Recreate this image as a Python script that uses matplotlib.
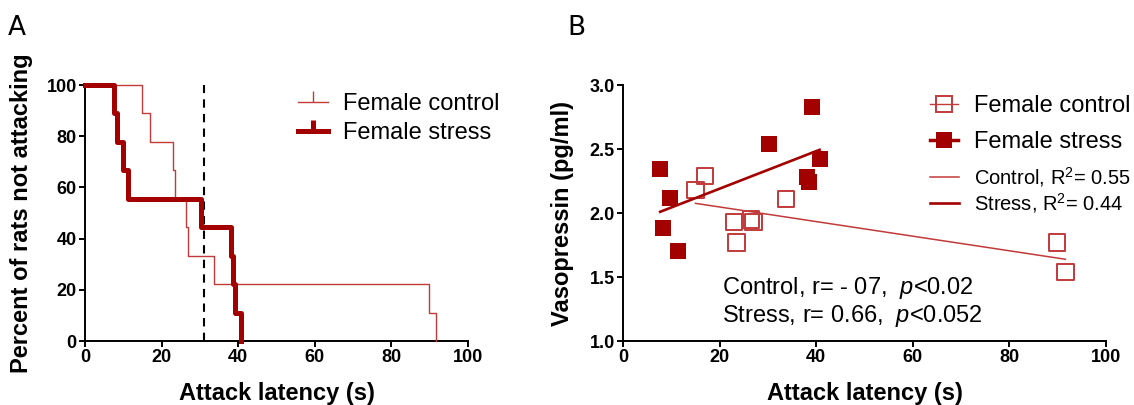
import matplotlib.pyplot as plt
import numpy as np
from matplotlib.lines import Line2D

plt.rcParams['font.family'] = ['Liberation Sans', 'DejaVu Sans']
plt.rcParams['mathtext.fontset'] = 'custom'
plt.rcParams['mathtext.rm'] = 'Liberation Sans'
plt.rcParams['mathtext.it'] = 'Liberation Sans:italic'

# attack latency (s) and vasopressin (pg/ml) per rat
ctrl_latency = [15.0, 17.0, 23.0, 23.5, 26.5, 27.0, 33.7, 89.8, 91.6]
ctrl_avp = [2.18, 2.29, 1.93, 1.77, 1.95, 1.93, 2.11, 1.77, 1.54]
stress_latency = [7.7, 8.3, 9.8, 11.3, 30.2, 38.0, 38.6, 39.1, 40.7]
stress_avp = [2.34, 1.88, 2.12, 1.70, 2.54, 2.28, 2.24, 2.83, 2.42]
cutoff = 31

c_ctrl = '#C23A3A'
c_stress = '#A30000'


def km_curve(times):
    t = np.sort(np.asarray(times))
    n = len(t)
    x = np.concatenate([[0], t])
    y = 100 * (n - np.arange(n + 1)) / n
    return x, y


fig = plt.figure(figsize=(11.34, 4.05), dpi=100)
W, H = 1134, 405

def box(l, r, t, b):
    return [l / W, 1 - b / H, (r - l) / W, (b - t) / H]

axA = fig.add_axes(box(85, 468, 85, 341))
axB = fig.add_axes(box(623, 1106, 85, 341))

for ax in (axA, axB):
    ax.spines[['top', 'right']].set_visible(False)
    ax.spines[['left', 'bottom']].set_linewidth(1.4)
    ax.tick_params(direction='out', length=4, width=1.4, labelsize=13, pad=2)

# ---- panel A: survival-style curves
x, y = km_curve(ctrl_latency)
axA.step(x, y, where='post', color=c_ctrl, lw=1.0, clip_on=False, zorder=3)
x, y = km_curve(stress_latency)
axA.step(x, y, where='post', color=c_stress, lw=3.6, clip_on=False, zorder=4)
axA.plot([cutoff, cutoff], [0, 100], color='black', lw=1.5, ls=(0, (4, 3)), zorder=2)
axA.set_xlim(0, 100)
axA.set_ylim(0, 100)
axA.set_xticks(np.arange(0, 101, 20))
axA.set_yticks(np.arange(0, 101, 20))
for lab in axA.get_xticklabels() + axA.get_yticklabels():
    lab.set_fontweight('bold')
axA.set_xlabel('Attack latency (s)', fontsize=17, fontweight='bold')
axA.set_ylabel('Percent of rats not attacking', fontsize=17, fontweight='bold')
axA.xaxis.set_label_coords(0.5, -0.205)
axA.xaxis.label.set_va('center')
axA.yaxis.set_label_coords(-0.167, 0.5)
axA.yaxis.label.set_va('center')

hA = [Line2D([], [], color=c_ctrl, lw=1.0, marker=2, ms=8, mew=1.0),
      Line2D([], [], color=c_stress, lw=3.6, marker=2, ms=8, mew=3.6)]
axA.legend(hA, ['Female control', 'Female stress'], loc='upper left',
           bbox_to_anchor=(298 / W, 1 - 93 / H), bbox_transform=fig.transFigure,
           frameon=False, fontsize=17, borderpad=0, borderaxespad=0,
           handlelength=1.25, handletextpad=0.65, labelspacing=0.3)

# ---- panel B: scatter and regressions
axB.scatter(ctrl_latency, ctrl_avp, marker='s', s=140, facecolors='none',
            edgecolors=c_ctrl, linewidths=1.4, zorder=3)
axB.scatter(stress_latency, stress_avp, marker='s', s=140, color=c_stress,
            linewidths=0, zorder=4)
for lat, avp, col, lw in ((ctrl_latency, ctrl_avp, c_ctrl, 1.1),
                          (stress_latency, stress_avp, c_stress, 1.9)):
    k, b = np.polyfit(lat, avp, 1)
    xs = np.array([min(lat), max(lat)])
    axB.plot(xs, k * xs + b, color=col, lw=lw, zorder=5)
axB.set_xlim(0, 100)
axB.set_ylim(1.0, 3.0)
axB.set_xticks(np.arange(0, 101, 20))
axB.set_yticks(np.arange(1.0, 3.01, 0.5))
axB.yaxis.set_major_formatter(plt.FormatStrFormatter('%.1f'))
for lab in axB.get_xticklabels() + axB.get_yticklabels():
    lab.set_fontweight('bold')
axB.set_xlabel('Attack latency (s)', fontsize=17, fontweight='bold')
axB.set_ylabel('Vasopressin (pg/ml)', fontsize=17, fontweight='bold')
axB.xaxis.set_label_coords(0.5, -0.205)
axB.xaxis.label.set_va('center')
axB.yaxis.set_label_coords(-0.126, 0.5)
axB.yaxis.label.set_va('center')

axB.text(20.5, 1.364, r'Control, r= - 07,  $p$<0.02', fontsize=17, va='baseline')
axB.text(20.5, 1.147, r'Stress, r= 0.66,  $p$<0.052', fontsize=17, va='baseline')

hB1 = [Line2D([], [], color=c_ctrl, lw=1.0, marker='s', ms=11, mfc='none', mew=1.4),
       Line2D([], [], color=c_stress, lw=2.5, marker='s', ms=11, mew=0)]
legB1 = axB.legend(hB1, ['Female control', 'Female stress'], loc='upper left',
                   bbox_to_anchor=(930 / W, 1 - 95 / H), bbox_transform=fig.transFigure,
                   frameon=False, fontsize=17, borderpad=0, borderaxespad=0,
                   handlelength=1.2, handletextpad=0.65, labelspacing=0.6)
axB.add_artist(legB1)
hB2 = [Line2D([], [], color=c_ctrl, lw=1.1),
       Line2D([], [], color=c_stress, lw=1.9)]
axB.legend(hB2, [r'Control, R$^2$= 0.55', r'Stress, R$^2$= 0.44'], loc='upper left',
           bbox_to_anchor=(930 / W, 1 - 165 / H), bbox_transform=fig.transFigure,
           frameon=False, fontsize=14.5, borderpad=0, borderaxespad=0,
           handlelength=1.45, handletextpad=0.75, labelspacing=0.1)

fig.text(8 / W, 1 - 35 / H, 'A', fontsize=19, family=['Liberation Sans Narrow', 'DejaVu Sans'])
fig.text(567 / W, 1 - 35 / H, 'B', fontsize=19, family=['Liberation Sans Narrow', 'DejaVu Sans'])

fig.savefig('out.png', dpi=100)
